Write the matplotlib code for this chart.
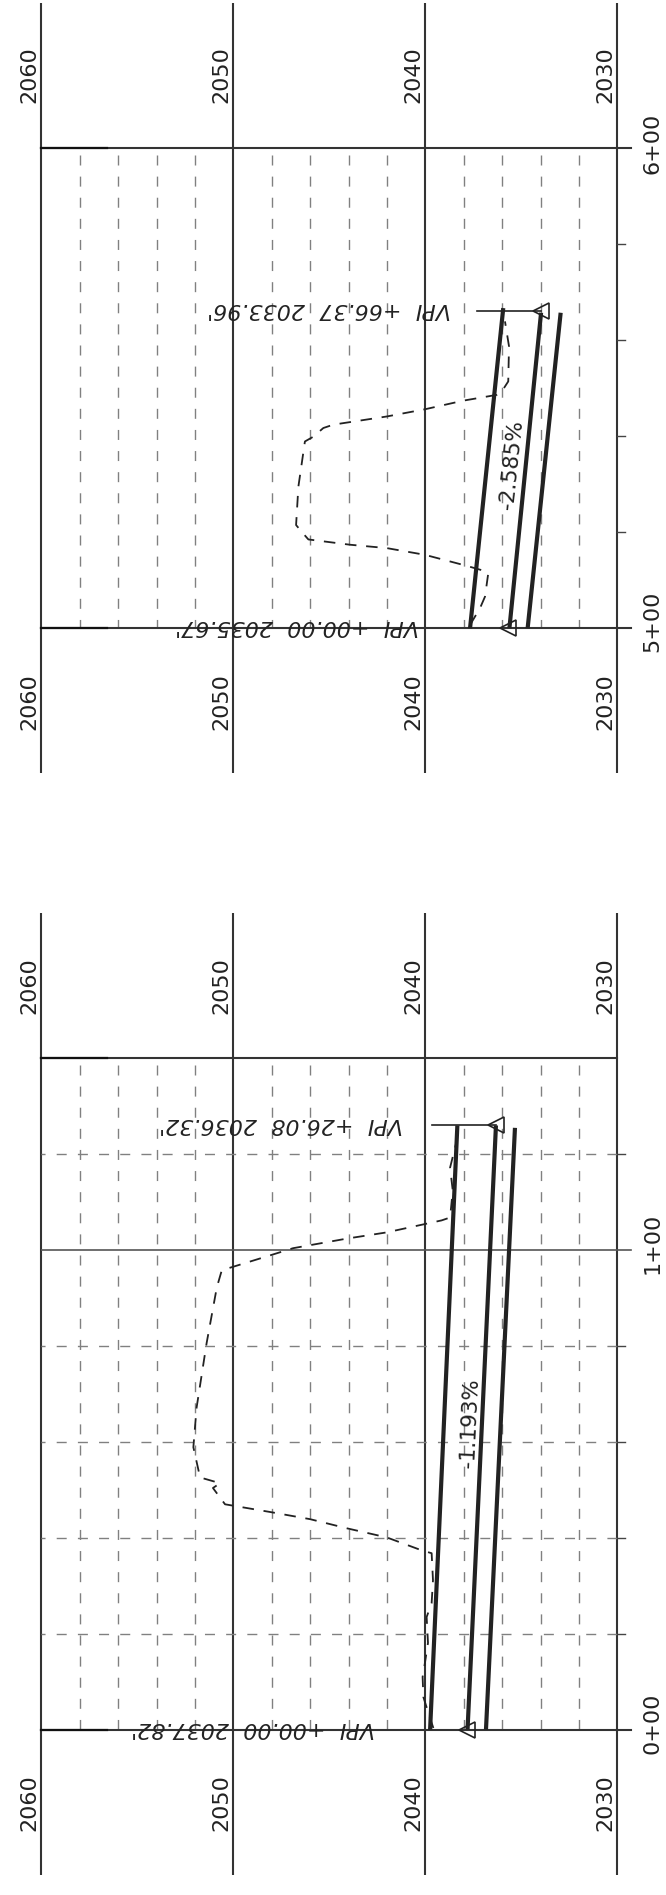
import matplotlib
matplotlib.use('Agg')
import matplotlib.pyplot as plt
import numpy as np

plt.rcParams['lines.scale_dashes'] = False
plt.rcParams['font.family'] = 'DejaVu Sans'

W, H = 666, 1895

elev_ticks = [2060, 2050, 2040, 2030]
minor_elev = [2058, 2056, 2054, 2052, 2048, 2046, 2044, 2042, 2038, 2036, 2034, 2032]

# lower sheet, station 0+00 to 1+40
low_ground_sta = [0.35, 3.5, 6.8, 11.0, 13.9, 18.1, 23.5, 26.4, 31.2, 36.8, 37.4, 40.1, 42.0, 43.9, 45.4, 47.0,
                  50.4, 51.4, 52.6, 58.9, 67.2, 80.6, 92.2, 95.8, 98.9, 100.4, 102.4, 103.7, 106.2, 106.8,
                  112.4, 117.2, 122.2, 125.6]
low_ground_elev = [2039.58, 2039.84, 2040.10, 2040.14, 2040.02, 2039.86, 2039.93, 2039.67, 2039.60, 2039.67,
                   2040.19, 2042.01, 2044.09, 2046.0, 2048.09, 2050.43, 2051.06, 2050.69, 2051.73, 2052.08,
                   2051.91, 2051.39, 2050.86, 2050.60, 2048.09, 2046.89, 2044.09, 2042.01, 2039.15, 2038.71,
                   2038.57, 2038.71, 2038.40, 2038.35]
low_left_sta, low_left_elev = [0, 126.0], [2039.75, 2038.33]
low_mid_sta, low_mid_elev = [0, 126.0], [2037.80, 2036.32]
low_right_sta, low_right_elev = [0, 125.5], [2036.84, 2035.33]
low_vpi_sta = [0, 126.0]
low_vpi_elev = [2037.82, 2036.32]
low_vpi_text = ["VPI  +00.00  2037.82'", "VPI  +26.08  2036.32'"]

# upper sheet, station 5+00 to 6+00
up_ground_sta = [500.7, 504.2, 506.6, 511.5, 511.8, 513.0, 515.3, 516.7, 517.4, 518.5, 520.1, 521.5, 529.5, 538.9,
                 539.9, 541.7, 542.4, 544.1, 545.6, 547.4, 548.6, 549.3, 551.4, 558.7, 563.9]
up_ground_elev = [2037.67, 2037.15, 2036.89, 2036.72, 2036.80, 2037.84, 2040.02, 2042.01, 2043.92, 2046.09,
                  2046.44, 2046.73, 2046.61, 2046.27, 2045.83, 2045.31, 2044.79, 2042.01, 2040.02, 2038.02,
                  2036.28, 2036.02, 2035.68, 2035.64, 2035.85]
up_left_sta, up_left_elev = [500, 566.67], [2037.67, 2035.94]
up_mid_sta, up_mid_elev = [500, 565.7], [2035.62, 2033.97]
up_right_sta, up_right_elev = [500, 565.7], [2034.67, 2032.95]
up_vpi_sta = [500, 566.1]
up_vpi_elev = [2035.67, 2033.96]
up_vpi_text = ["VPI  +00.00  2035.67'", "VPI  +66.37  2033.96'"]


def px_axes(fig, x0, x1, y_top, y_bot):
	return fig.add_axes([x0/W, 1-y_bot/H, (x1-x0)/W, (y_bot-y_top)/H])


def sheet(ax, sta0, sta1, labels, dashed_rows, tick_rows, top_long):
	ax.set_xlim(2060, 2030)
	ax.set_ylim(sta0, sta1)
	ax.axis('off')

	# vertical lines run 145 px above the top and 144 px below the bottom
	over = 145/4.8
	for e in elev_ticks:
		ax.plot([e, e], [sta0-over, sta1+over], color='#333333', lw=1.5, clip_on=False, solid_capstyle='butt')
		for s in (sta1+15.2, sta0-15.2):
			ax.text(e+0.1, s, str(e), rotation=90, ha='right', va='center', fontsize=16, color='#222222')

	for e in minor_elev:
		ax.plot([e, e], [sta1-1.5, sta0], color='#808080', lw=1.0, ls=(0, (7.2, 8.0)), dash_capstyle='butt')

	for s in dashed_rows:
		ax.plot([2060, 2030], [s, s], color='#808080', lw=1.0, ls=(4.3, (7.2, 8.05)), dash_capstyle='butt')
	for s in tick_rows:
		ax.plot([2030, 2029.6], [s, s], color='#444444', lw=1.0, clip_on=False)

	ax.plot([2060, 2030], [sta0, sta0], color='#333333', lw=1.5, clip_on=False)
	ax.plot([2030, 2029.3], [sta0, sta0], color='#333333', lw=1.5, clip_on=False)
	ax.plot([2060, 2056.6], [sta0, sta0], color='#111111', lw=1.6, clip_on=False)
	ax.plot([2060, 2030], [sta1, sta1], color='#333333', lw=1.5, clip_on=False)
	ax.plot([2060, 2056.6], [sta1, sta1], color='#111111', lw=1.6, clip_on=False)
	if top_long:
		ax.plot([2030, 2029.3], [sta1, sta1], color='#333333', lw=1.5, clip_on=False)

	for s, txt in labels:
		ax.text(2028.17, s, txt, rotation=90, ha='center', va='center', fontsize=16, color='#222222', clip_on=False)


def profile(ax, g_sta, g_elev, grades, vpi_sta, vpi_elev, vpi_text, text_elev, stem_elev):
	ax.plot(g_elev, g_sta, color='#222222', lw=1.3, ls=(0, (8.3, 7.0)), dash_capstyle='butt', clip_on=False)
	for g_s, g_e in grades:
		ax.plot(g_e, g_s, color='#222222', lw=3.0, solid_capstyle='butt', clip_on=False)
	ax.plot([stem_elev, vpi_elev[1]], [vpi_sta[1], vpi_sta[1]], color='#222222', lw=1.2)
	ax.plot(vpi_elev, vpi_sta, ls='none', marker='<', ms=11.5, mfc='none', mec='#222222', mew=1.2, clip_on=False)
	for s, t, te in zip(vpi_sta, vpi_text, text_elev):
		ax.text(te, s+0.4, t, rotation=180, ha='center', va='center', fontsize=16, style='oblique', color='#222222')


fig = plt.figure(figsize=(W/100, H/100), dpi=100)

# upper sheet
ax1 = px_axes(fig, 41.3, 617.3, 148, 628.3)
sheet(ax1, 500, 600, [(501.4, '5+00'), (601, '6+00')], [], [520, 540, 560, 580], True)
profile(ax1, up_ground_sta, up_ground_elev,
	[(up_left_sta, up_left_elev), (up_mid_sta, up_mid_elev), (up_right_sta, up_right_elev)],
	up_vpi_sta, up_vpi_elev, up_vpi_text, [2046.7, 2045.0], 2037.33)
ax1.text(2035.52, 534.1, '-2.585%', rotation=84, ha='center', va='center', fontsize=15.5, color='#222222')

# lower sheet
ax2 = px_axes(fig, 41.3, 617.3, 1058.3, 1729.7)
sheet(ax2, 0, 140, [(1.4, '0+00'), (101.4, '1+00')], [20, 40, 60, 80, 120], [20, 40, 60, 80, 120], False)
ax2.plot([2060, 2030], [100, 100], color='#555555', lw=1.2)
ax2.plot([2030, 2029.3], [100, 100], color='#555555', lw=1.2, clip_on=False)
profile(ax2, low_ground_sta, low_ground_elev,
	[(low_left_sta, low_left_elev), (low_mid_sta, low_mid_elev), (low_right_sta, low_right_elev)],
	low_vpi_sta, low_vpi_elev, low_vpi_text, [2049.0, 2047.5], 2039.67)
ax2.text(2037.68, 63.9, '-1.193%', rotation=87.3, ha='center', va='center', fontsize=15.5, color='#222222')

fig.savefig('out.png', dpi=100)
